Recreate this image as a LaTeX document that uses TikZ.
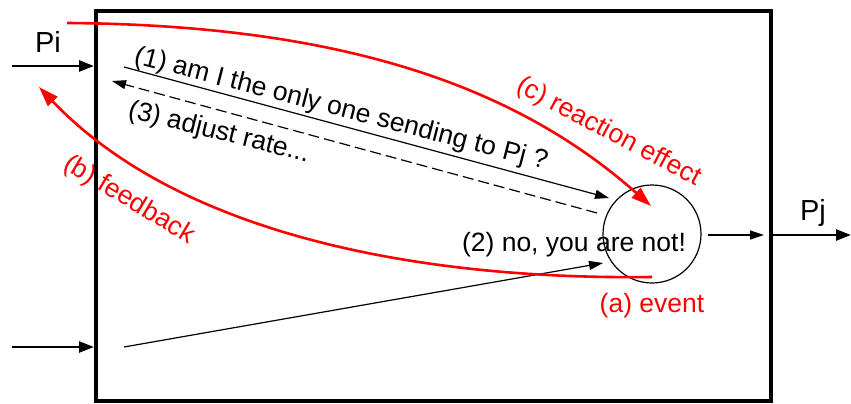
\documentclass[tikz,border=0pt]{standalone}
\usepackage{fontspec}
\setmainfont{Liberation Sans}
\usetikzlibrary{arrows.meta}
\definecolor{rd}{RGB}{255,0,0}
\tikzset{
  big/.style={font=\fontsize{29}{33}\selectfont},
  lbl/.style={font=\fontsize{26.5}{30}\selectfont, inner sep=0pt},
  inarrow/.style={line width=2.6pt, -{Triangle[length=15pt,width=11pt]}},
  thin/.style={line width=1.2pt, -{Triangle[length=14pt,width=9pt]}},
  redarrow/.style={rd, line width=2.6pt, -{Triangle[length=20pt,width=13pt]}},
}
\begin{document}
\begin{tikzpicture}[x=1pt,y=-1pt]
\useasboundingbox (0,0) rectangle (851,404);
% box
\draw[line width=3.6pt] (96,11) rectangle (771,401);
% named points
\coordinate (pis) at (12,66);
\coordinate (pie) at (94,66);
\coordinate (los) at (12,347);
\coordinate (loe) at (94,347);
\coordinate (pjs) at (772,235);
\coordinate (pje) at (851,235);
\coordinate (q1s) at (124,67);
\coordinate (q1e) at (609,198);
\coordinate (q3s) at (597,213);
\coordinate (q3e) at (112,81);
\coordinate (l2s) at (124,347);
\coordinate (l2e) at (603,263);
\coordinate (cs) at (67,23);
\coordinate (ce) at (651,206);
\coordinate (bs) at (652,277);
\coordinate (be) at (39,87);
\coordinate (os) at (708,235);
\coordinate (oe) at (764,235);
\node[circle, draw, line width=1.2pt, minimum size=98pt, inner sep=0pt] (C) at (652,234) {};
% inputs/outputs
\draw[inarrow] (pis) -- (pie);
\draw[inarrow] (los) -- (loe);
\draw[inarrow] (pjs) -- (pje);
\node[big] (Pi) at (48,42) {Pi};
\node[big] (Pj) at (813,213) {Pj};
% inner arrows
\draw[thin] (q1s) -- (q1e);
\draw[thin, dash pattern=on 11pt off 5pt] (q3s) -- (q3e);
\draw[thin] (l2s) -- (l2e);
\draw[thin] (os) -- (oe);
% red curves
\draw[redarrow] (cs) .. controls (350,25) and (520,90) .. (ce);
\draw[redarrow] (bs) .. controls (420,280) and (180,235) .. (be);
% texts
\node[lbl, anchor=base west, rotate=-14.5] (t1) at (133,63) {(1) am I the only one sending to Pj ?};
\node[lbl, anchor=base west, rotate=-14] (t3) at (127,117) {(3) adjust rate...};
\node[lbl, anchor=base] (t2) at (574,251) {(2) no, you are not!};
\node[lbl, anchor=base west, rotate=-28, text=rd] (tc) at (515,90) {(c) reaction effect};
\node[lbl, anchor=base west, rotate=-31, text=rd] (tb) at (62,168) {(b) feedback};
\node[lbl, anchor=base, text=rd] (ta) at (652,312) {(a) event};
\end{tikzpicture}
\end{document}
